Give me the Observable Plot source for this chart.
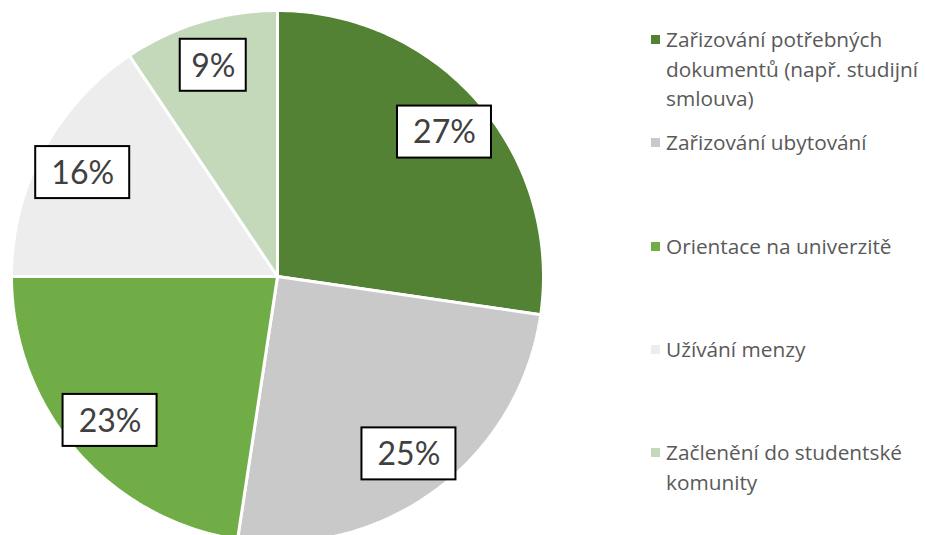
<!DOCTYPE html>
<html>
<head>
<meta charset="utf-8">
<script src="https://cdn.jsdelivr.net/npm/d3@7"></script>
<script src="https://cdn.jsdelivr.net/npm/@observablehq/plot@0.6"></script>
<style>
  html, body { margin: 0; padding: 0; background: #fff; overflow: hidden; }
  #wrap { position: relative; width: 925px; height: 535px; }
  #legend { position: absolute; left: 651px; top: 0; font-family: "Open Sans", Lato, sans-serif; font-size: 20.8px; color: #595959; }
  .item { position: absolute; left: 0; display: flex; align-items: flex-start; width: 290px; line-height: 29.5px; }
  .sw { width: 9px; height: 9px; margin-top: 10px; margin-right: 6px; flex: none; }
  .txt { width: 272px; white-space: normal; }
</style>
</head>
<body>
<div id="wrap"><div id="legend"></div></div>
<script>
const categories = [
  "Zařizování potřebných dokumentů (např. studijní smlouva)",
  "Zařizování ubytování",
  "Orientace na univerzitě",
  "Užívání menzy",
  "Začlenění do studentské komunity"
];
const values = [27.3, 25.1, 22.6, 15.6, 9.4];
const labels = ["27%", "25%", "23%", "16%", "9%"];
const colors = ["#548235", "#C9C9C9", "#70AD47", "#EDEDED", "#C4D8BA"];

const arcs = d3.pie().sort(null).value(d => d)(values);

// polygon points for each slice, in unit-circle data space
const slicePts = [];
arcs.forEach((a, i) => {
  const n = Math.max(8, Math.ceil((a.endAngle - a.startAngle) * 60));
  slicePts.push({cat: categories[i], x: 0, y: 0});
  for (let k = 0; k <= n; k++) {
    const t = a.startAngle + (a.endAngle - a.startAngle) * k / n;
    slicePts.push({cat: categories[i], x: Math.sin(t), y: Math.cos(t)});
  }
});

const labelPts = arcs.map((a, i) => {
  const m = (a.startAngle + a.endAngle) / 2;
  return {label: labels[i], x: 0.83 * Math.sin(m), y: 0.83 * Math.cos(m)};
});

const chart = Plot.plot({
  width: 925,
  height: 535,
  margin: 0,
  x: {domain: [-1, 1], range: [11, 543], axis: null},
  y: {domain: [-1, 1], range: [542, 10], axis: null},
  color: {domain: categories, range: colors},
  style: {fontFamily: "Lato, 'Open Sans', sans-serif", background: "white"},
  marks: [
    Plot.line(slicePts, {x: "x", y: "y", z: "cat", fill: "cat", stroke: "white", strokeWidth: 3, strokeLinejoin: "miter", curve: "linear-closed"}),
    Plot.rect(labelPts.filter(d => d.label.length > 2), {x1: "x", x2: "x", y1: "y", y2: "y", insetLeft: -47, insetRight: -47, insetTop: -26, insetBottom: -26, fill: "white", stroke: "black", strokeWidth: 2}),
    Plot.rect(labelPts.filter(d => d.label.length <= 2), {x1: "x", x2: "x", y1: "y", y2: "y", insetLeft: -33, insetRight: -33, insetTop: -26, insetBottom: -26, fill: "white", stroke: "black", strokeWidth: 2}),
    Plot.text(labelPts, {x: "x", y: "y", text: "label", fill: "#404040", fontSize: 32, dy: 1})
  ]
});
document.getElementById("wrap").prepend(chart);

const legend = document.getElementById("legend");
categories.forEach((c, i) => {
  const it = document.createElement("div");
  it.className = "item";
  it.style.top = (25 + i * 103.3) + "px";
  const sw = document.createElement("div");
  sw.className = "sw";
  sw.style.background = colors[i];
  const tx = document.createElement("div");
  tx.className = "txt";
  tx.textContent = c;
  it.append(sw, tx);
  legend.append(it);
});
</script>
</body>
</html>
